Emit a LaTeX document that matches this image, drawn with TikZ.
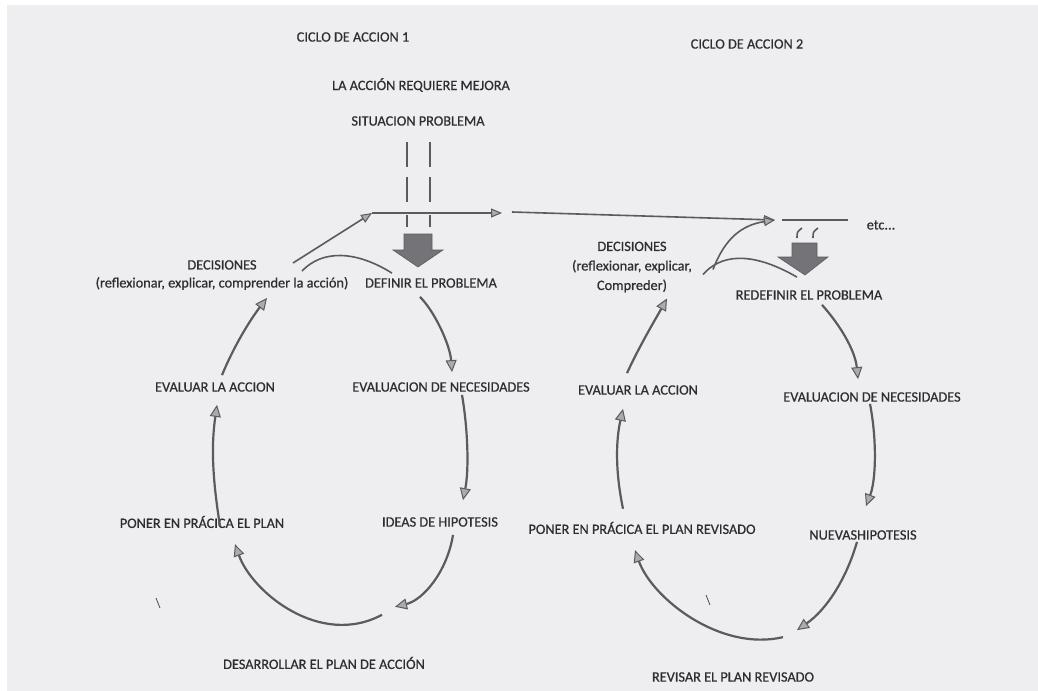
\documentclass[tikz,border=0pt]{standalone}
\usepackage{fontspec}
\setmainfont{Carlito}
\newfontfamily\lblfont[FakeBold=0.6]{Carlito}
\usetikzlibrary{arrows.meta,calc}
\definecolor{paper}{RGB}{238,238,241}
\definecolor{txt}{RGB}{45,45,50}
\definecolor{arrowc}{RGB}{90,90,95}
\definecolor{headc}{RGB}{170,170,175}
\definecolor{blockc}{RGB}{115,115,120}
\tikzset{
  lbl/.style={inner sep=0pt, text=txt, font=\lblfont\fontsize{14.3bp}{19.5bp}\selectfont},
  cyc/.style={draw=arrowc, line width=2.2bp,
    -{Triangle[length=12bp,width=11bp,fill=headc,line width=1bp]}},
  flat/.style={draw=arrowc, line width=1.6bp},
  flatarrow/.style={flat, -{Triangle[length=11bp,width=9bp,fill=headc,line width=1bp]}},
  dashv/.style={draw=arrowc, line width=2.4bp},
  blockarrow/.style={fill=blockc, draw=arrowc, line width=0.6bp},
  speck/.style={draw=arrowc, line width=0.9bp}
}
\begin{document}
\begin{tikzpicture}[x=1bp,y=-1bp]
\useasboundingbox (0,0) rectangle (1038,691);
\fill[white] (0,0) rectangle (1038,691);
\fill[paper] (7,5) rectangle (1038,691);

% ---------- titles ----------
\node[lbl] (t1) at (353,37) {CICLO DE ACCION 1};
\node[lbl] (t2) at (747,44) {CICLO DE ACCION 2};
\node[lbl] (req) at (421,85) {LA ACCIÓN REQUIERE MEJORA};
\node[lbl] (sit) at (418,121) {SITUACION PROBLEMA};

% ---------- cycle 1 labels ----------
\node[lbl, align=center, font=\lblfont\fontsize{14.3bp}{18bp}\selectfont] (dec) at (222,275) {DECISIONES\\(reflexionar, explicar, comprender la acción)};
\node[lbl] (def) at (431,283) {DEFINIR EL PROBLEMA};
\node[lbl] (eva) at (215,387) {EVALUAR LA ACCION};
\node[lbl] (evn) at (441,387) {EVALUACION DE NECESIDADES};
\node[lbl] (pon) at (202,522) {PONER EN PRÁCICA EL PLAN};
\node[lbl] (ide) at (440,522) {IDEAS DE HIPOTESIS};
\node[lbl] (des) at (324,663) {DESARROLLAR EL PLAN DE ACCIÓN};

% ---------- cycle 2 labels ----------
\node[lbl, align=center] (dec2) at (632,267) {DECISIONES\\(reflexionar, explicar,\\Compreder)};
\node[lbl] (rdef) at (809,295) {REDEFINIR EL PROBLEMA};
\node[lbl] (etc) at (881,225) {etc...};
\node[lbl] (eva2) at (638,390) {EVALUAR LA ACCION};
\node[lbl] (evn2) at (872,397) {EVALUACION DE NECESIDADES};
\node[lbl] (pon2) at (642,528) {PONER EN PRÁCICA EL PLAN REVISADO};
\node[lbl] (nue) at (863,535) {NUEVASHIPOTESIS};
\node[lbl] (rev) at (733,677) {REVISAR EL PLAN REVISADO};

% ---------- top of cycle 1 ----------
\coordinate (h1s) at (372,213);
\coordinate (h1e) at (502,213);
\coordinate (h2s) at (512,212);
\coordinate (h2e) at (775,220);
\coordinate (bar2s) at (782,220);
\coordinate (bar2e) at (848,220);

\foreach \x in {407,430}{
  \draw[dashv] (\x,142) -- (\x,167);
  \draw[dashv] (\x,177) -- (\x,202);
  \draw[dashv] (\x,215) -- (\x,227);
}
\draw[flatarrow] (h1s) -- (h1e);
\draw[flatarrow] (h2s) -- (h2e);
\draw[flat] (bar2s) -- (bar2e);

% block arrow 1
\draw[blockarrow] (404,234) -- (432,234) -- (432,250) -- (443,250) -- (418,267)
  -- (393,250) -- (404,250) -- cycle;
% block arrow 2
\draw[blockarrow] (792,243) -- (817,243) -- (817,257) -- (828,257) -- (805,275)
  -- (778,257) -- (792,257) -- cycle;
% small strokes above block 2
\draw[flat] (797,238) .. controls (797,232) .. (802,228);
\draw[flat] (813,238) .. controls (813,232) .. (818,228);

% ---------- cycle 1 connectors ----------
\draw[cyc] ([shift={(-11,9)}]def.south) .. controls (435,312) and (450,345) .. ([shift={(11,-10)}]evn.north);
\draw[cyc] ([shift={(21,3)}]evn.south) .. controls (468,430) and (469,470) .. ([shift={(23,-17)}]ide.north);
\draw[cyc] ([shift={(13,8)}]ide.south) .. controls (447,572) and (423,600) .. ([shift={(71,-50)}]des.north);
\draw[cyc] ([shift={(58,-42)}]des.north) .. controls (320,648) and (252,592) .. ([shift={(33,16)}]pon.south);
\draw[cyc] ([shift={(18,10)}]pon.north) .. controls (211,470) and (212,440) .. ([shift={(2,13)}]eva.south);
\draw[cyc] ([shift={(7,-7)}]eva.north) .. controls (234,346) and (250,320) .. ([shift={(45,8)}]dec.south);
\coordinate (d1a) at ($(dec.north)+(71,3)$);
\coordinate (d1b) at ($(dec.north)+(80,11)$);
\draw[flatarrow] (d1a) -- (h1s);
\draw[flat] (d1b) .. controls (322,250) and (355,250) .. ([shift={(-39,-5)}]def.north);

% ---------- cycle 2 connectors ----------
\draw[cyc] ([shift={(13,5)}]rdef.south) .. controls (840,325) and (855,350) .. ([shift={(-14,-13)}]evn2.north);
\draw[cyc] ([shift={(-2,2)}]evn2.south) .. controls (877,440) and (876,480) .. ([shift={(3,-24)}]nue.north);
\draw[cyc] ([shift={(-6,2)}]nue.south) .. controls (846,580) and (826,610) .. ([shift={(64,-42)}]rev.north);
\draw[cyc] ([shift={(50,-35)}]rev.north) .. controls (720,652) and (652,598) .. ([shift={(-7,16)}]pon2.south);
\draw[cyc] ([shift={(-19,-13)}]pon2.north) .. controls (615,470) and (616,440) .. ([shift={(-15,14)}]eva2.south);
\draw[cyc] ([shift={(-11,-12)}]eva2.north) .. controls (640,345) and (655,320) .. ([shift={(35,6)}]dec2.south);
\coordinate (d2a) at ($(dec2.north)+(81,28)$);
\coordinate (d2b) at ($(dec2.north)+(71,33)$);
\draw[flatarrow] (d2a) .. controls (725,238) and (742,225) .. (h2e);
\draw[flat] (d2b) .. controls (720,255) and (750,250) .. ([shift={(-12,-13)}]rdef.north);

% ---------- scan specks ----------
\draw[speck] (156,598) -- (160,608);
\draw[speck] (706,595) -- (710,605);
\end{tikzpicture}
\end{document}
